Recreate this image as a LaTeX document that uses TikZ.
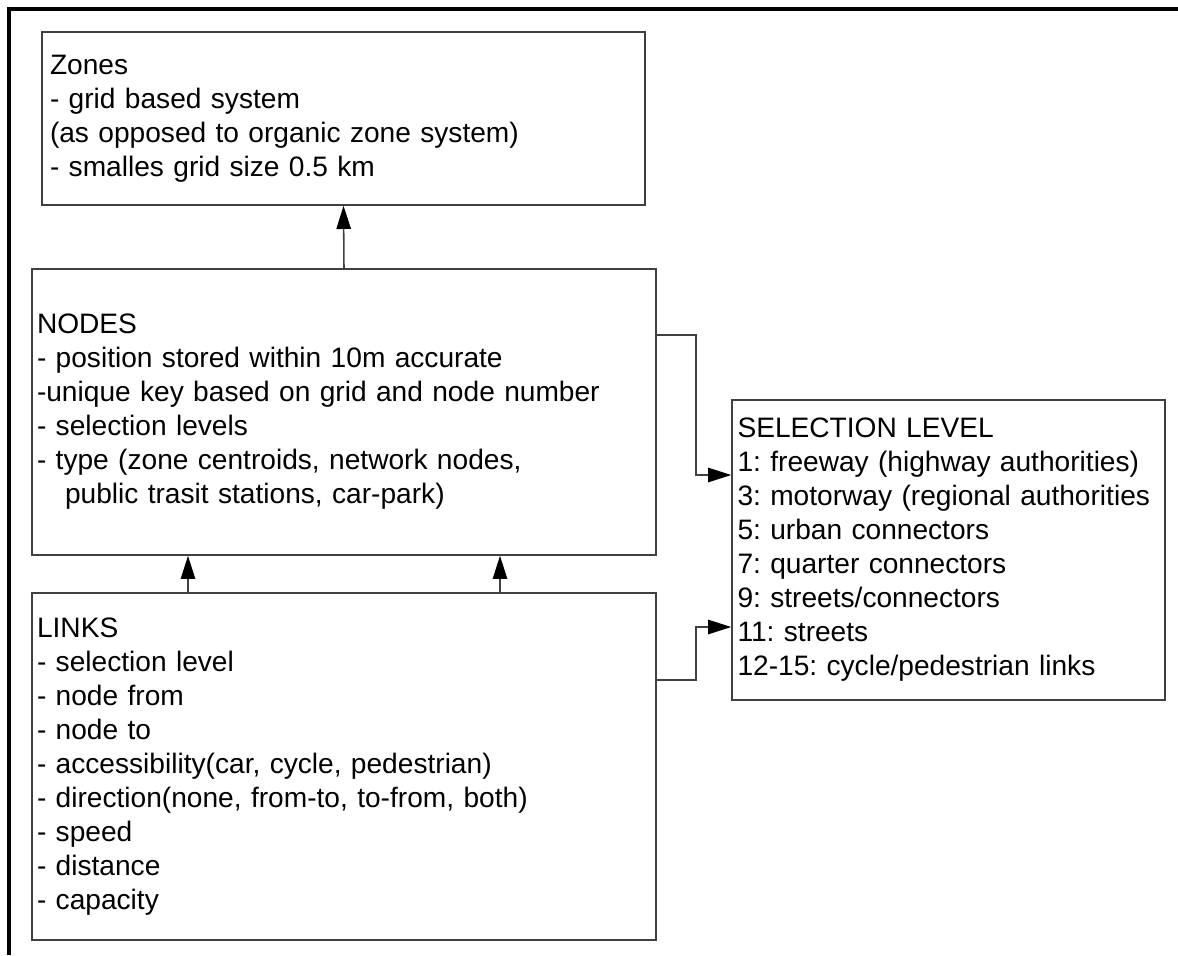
\documentclass[tikz,border=0pt]{standalone}
\usepackage{fontspec}
\setmainfont{Liberation Sans}
\usetikzlibrary{arrows.meta}
\frenchspacing

\begin{document}
\begin{tikzpicture}[
    box/.style={rectangle, draw=black!75, line width=1.1pt, align=left, inner ysep=0pt,
      font=\fontsize{20pt}{24.2pt}\selectfont},
    arr/.style={-{Triangle[length=5.8mm,width=3.6mm,color=black]}, draw=black!75, line width=1.1pt}]
    \useasboundingbox (0,0) rectangle (29.45,-23.875);
    \draw[line width=2.4pt] (0.225,-23.875) -- (0.225,-0.225) -- (29.45,-0.225);

    \node [box, inner xsep=0.2cm, text width=14.675cm, minimum height=4.325cm] (zones) at (8.5875,-2.9625)
        {Zones\\- grid based system\\(as opposed to organic zone system)\\- smalles grid size 0.5 km};
    \node [box, inner xsep=0.125cm, text width=15.35cm, minimum height=7.15cm] (nodes) at (8.6,-10.3)
        {NODES\\- position stored within 10m accurate\\-unique key based on grid and node number\\- selection levels\\- type (zone centroids, network nodes,\\\hspace*{0.7cm}public trasit stations, car-park)};
    \node [box, inner xsep=0.125cm, text width=15.35cm, minimum height=8.675cm] (links) at (8.6,-19.1625)
        {LINKS\\- selection level\\- node from\\- node to\\- accessibility(car, cycle, pedestrian)\\- direction(none, from-to, to-from, both)\\- speed\\- distance\\- capacity};
    \node [box, inner xsep=0.1375cm, text width=10.55cm, minimum height=7.5cm] (sel) at (23.7125,-13.75)
        {SELECTION LEVEL\\1: freeway (highway authorities)\\3: motorway (regional authorities\\5: urban connectors\\7: quarter connectors\\9: streets/connectors\\11: streets\\12-15: cycle/pedestrian links};

    \draw[arr] (nodes.north) -- (zones.south);
    \draw[arr] ([xshift=-3.9cm]links.north) -- ([xshift=-3.9cm]nodes.south);
    \draw[arr] ([xshift=3.9cm]links.north) -- ([xshift=3.9cm]nodes.south);
    \draw[arr] ([yshift=1.925cm]nodes.east) -- ++(0.975cm,0) |- ([yshift=1.875cm]sel.west);
    \draw[arr] ([yshift=2.1625cm]links.east) -- ++(0.975cm,0) |- ([yshift=-1.925cm]sel.west);
\end{tikzpicture}
\end{document}
